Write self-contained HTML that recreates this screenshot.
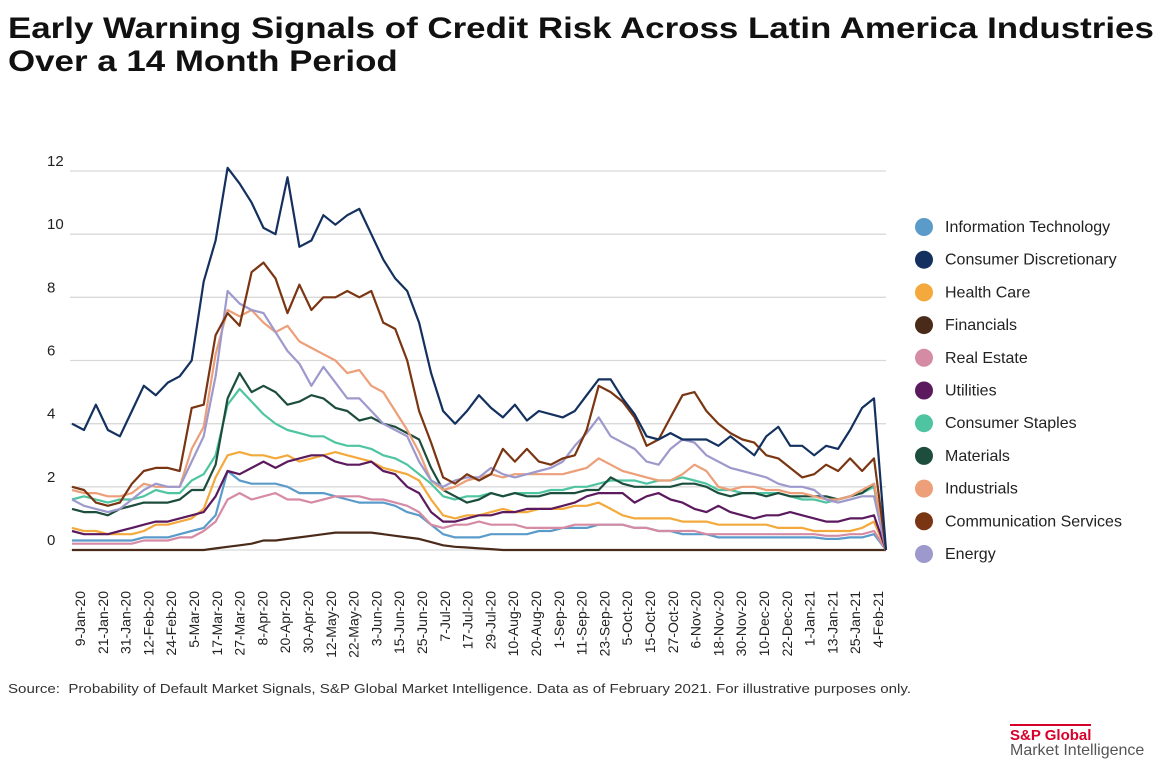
<!DOCTYPE html>
<html><head><meta charset="utf-8">
<style>
body{margin:0;background:#fff;font-family:"Liberation Sans",sans-serif;}
#wrap{position:relative;width:1168px;height:768px;overflow:hidden;}
h1{position:absolute;left:8px;top:12px;margin:0;font-size:30px;line-height:33px;font-weight:bold;color:#111;white-space:nowrap;transform:scaleX(1.163);transform-origin:0 0;}
.src{position:absolute;left:8px;top:681px;font-size:13px;color:#333;white-space:nowrap;transform:scaleX(1.16);transform-origin:0 0;}
.logo1{position:absolute;left:1010px;top:724px;font-size:15px;font-weight:bold;color:#d6002a;border-top:2px solid #d6002a;padding-top:1px;}
.logo2{position:absolute;left:1010px;top:742px;font-size:16px;color:#555;}
</style></head><body>
<div id="wrap">
<h1>Early Warning Signals of Credit Risk Across Latin America Industries<br>Over a 14 Month Period</h1>
<svg id="chart" width="1168" height="768" style="position:absolute;left:0;top:0"></svg>
<div class="src">Source:&nbsp; Probability of Default Market Signals, S&amp;P Global Market Intelligence. Data as of February 2021. For illustrative purposes only.</div>
<div class="logo1">S&amp;P Global</div>
<div class="logo2">Market Intelligence</div>
</div>
<script>
const xLabels=["9-Jan-20","21-Jan-20","31-Jan-20","12-Feb-20","24-Feb-20","5-Mar-20","17-Mar-20","27-Mar-20","8-Apr-20","20-Apr-20","30-Apr-20","12-May-20","22-May-20","3-Jun-20","15-Jun-20","25-Jun-20","7-Jul-20","17-Jul-20","29-Jul-20","10-Aug-20","20-Aug-20","1-Sep-20","11-Sep-20","23-Sep-20","5-Oct-20","15-Oct-20","27-Oct-20","6-Nov-20","18-Nov-20","30-Nov-20","10-Dec-20","22-Dec-20","1-Jan-21","13-Jan-21","25-Jan-21","4-Feb-21"];
const yTicks=[0,2,4,6,8,10,12];
const seriesNames=["Information Technology","Consumer Discretionary","Health Care","Financials","Real Estate","Utilities","Consumer Staples","Materials","Industrials","Communication Services","Energy"];
const seriesColors=["#5b9bc9","#13305f","#f3a93c","#4a2a18","#d68ba5","#5c1a5e","#4fc4a1","#1d4d3c","#ec9f78","#7a3512","#9d99cc"];
const itVals=[0.3,0.3,0.3,0.3,0.3,0.3,0.4,0.4,0.4,0.5,0.6,0.7,1.1,2.5,2.2,2.1,2.1,2.1,2.0,1.8,1.8,1.8,1.7,1.6,1.5,1.5,1.5,1.4,1.2,1.1,0.8,0.5,0.4,0.4,0.4,0.5,0.5,0.5,0.5,0.6,0.6,0.7,0.7,0.7,0.8,0.8,0.8,0.7,0.7,0.6,0.6,0.5,0.5,0.5,0.4,0.4,0.4,0.4,0.4,0.4,0.4,0.4,0.4,0.35,0.35,0.4,0.4,0.5,0];
const cdVals=[4.0,3.8,4.6,3.8,3.6,4.4,5.2,4.9,5.3,5.5,6.0,8.5,9.8,12.1,11.6,11.0,10.2,10.0,11.8,9.6,9.8,10.6,10.3,10.6,10.8,10.0,9.2,8.6,8.2,7.2,5.6,4.4,4.0,4.4,4.9,4.5,4.2,4.6,4.1,4.4,4.3,4.2,4.4,4.9,5.4,5.4,4.8,4.3,3.6,3.5,3.7,3.5,3.5,3.5,3.3,3.6,3.3,3.0,3.6,3.9,3.3,3.3,3.0,3.3,3.2,3.8,4.5,4.8,0];
const hcVals=[0.7,0.6,0.6,0.5,0.5,0.5,0.6,0.8,0.8,0.9,1.0,1.3,2.3,3.0,3.1,3.0,3.0,2.9,3.0,2.8,2.9,3.0,3.1,3.0,2.9,2.8,2.6,2.5,2.4,2.2,1.6,1.1,1.0,1.1,1.1,1.2,1.3,1.2,1.2,1.3,1.3,1.3,1.4,1.4,1.5,1.3,1.1,1.0,1.0,1.0,1.0,0.9,0.9,0.9,0.8,0.8,0.8,0.8,0.8,0.7,0.7,0.7,0.6,0.6,0.6,0.6,0.7,0.9,0];
const finVals=[0,0,0,0,0,0,0,0,0,0,0,0,0.05,0.1,0.15,0.2,0.3,0.3,0.35,0.4,0.45,0.5,0.55,0.55,0.55,0.55,0.5,0.45,0.4,0.35,0.25,0.15,0.1,0.08,0.05,0.03,0,0,0,0,0,0,0,0,0,0,0,0,0,0,0,0,0,0,0,0,0,0,0,0,0,0,0,0,0,0,0,0,0];
const reVals=[0.2,0.2,0.2,0.2,0.2,0.2,0.3,0.3,0.3,0.4,0.4,0.6,0.9,1.6,1.8,1.6,1.7,1.8,1.6,1.6,1.5,1.6,1.7,1.7,1.7,1.6,1.6,1.5,1.4,1.2,0.8,0.7,0.8,0.8,0.9,0.8,0.8,0.8,0.7,0.7,0.7,0.7,0.8,0.8,0.8,0.8,0.8,0.7,0.7,0.6,0.6,0.6,0.6,0.5,0.5,0.5,0.5,0.5,0.5,0.5,0.5,0.5,0.5,0.45,0.45,0.5,0.5,0.6,0];
const utVals=[0.6,0.5,0.5,0.5,0.6,0.7,0.8,0.9,0.9,1.0,1.1,1.2,1.7,2.5,2.4,2.6,2.8,2.6,2.8,2.9,3.0,3.0,2.8,2.7,2.7,2.8,2.5,2.4,2.0,1.8,1.2,0.9,0.9,1.0,1.1,1.1,1.2,1.2,1.3,1.3,1.3,1.4,1.5,1.7,1.8,1.8,1.8,1.5,1.7,1.8,1.6,1.5,1.3,1.2,1.4,1.2,1.1,1.0,1.1,1.1,1.2,1.1,1.0,0.9,0.9,1.0,1.0,1.1,0];
const csVals=[1.6,1.7,1.6,1.5,1.6,1.6,1.7,1.9,1.8,1.8,2.2,2.4,3.0,4.6,5.1,4.7,4.3,4.0,3.8,3.7,3.6,3.6,3.4,3.3,3.3,3.2,3.0,2.9,2.7,2.4,2.1,1.7,1.6,1.7,1.7,1.8,1.7,1.8,1.8,1.8,1.9,1.9,2.0,2.0,2.1,2.2,2.2,2.2,2.1,2.2,2.2,2.3,2.2,2.1,1.9,1.9,1.8,1.8,1.8,1.8,1.7,1.6,1.6,1.5,1.6,1.7,1.8,2.0,0];
const matVals=[1.3,1.2,1.2,1.1,1.3,1.4,1.5,1.5,1.5,1.6,1.9,1.9,2.7,4.8,5.6,5.0,5.2,5.0,4.6,4.7,4.9,4.8,4.5,4.4,4.1,4.2,4.0,3.9,3.7,3.5,2.6,1.9,1.7,1.5,1.6,1.8,1.7,1.8,1.7,1.7,1.8,1.8,1.8,1.9,1.9,2.3,2.1,2.0,2.0,2.0,2.0,2.1,2.1,2.0,1.8,1.7,1.8,1.8,1.7,1.8,1.7,1.7,1.7,1.7,1.6,1.7,1.8,2.1,0];
const indVals=[1.9,1.8,1.8,1.7,1.7,1.8,2.1,2.0,2.0,2.0,3.2,3.9,6.2,7.6,7.4,7.6,7.2,6.9,7.1,6.6,6.4,6.2,6.0,5.6,5.7,5.2,5.0,4.4,3.8,3.1,2.2,1.9,2.0,2.2,2.3,2.4,2.3,2.4,2.4,2.4,2.4,2.4,2.5,2.6,2.9,2.7,2.5,2.4,2.3,2.2,2.2,2.4,2.7,2.5,2.0,1.9,2.0,2.0,1.9,1.9,1.8,1.8,1.7,1.6,1.6,1.7,1.9,2.1,0];
const comVals=[2.0,1.9,1.5,1.4,1.5,2.1,2.5,2.6,2.6,2.5,4.5,4.6,6.8,7.5,7.1,8.8,9.1,8.6,7.5,8.4,7.6,8.0,8.0,8.2,8.0,8.2,7.2,7.0,6.0,4.4,3.4,2.3,2.1,2.4,2.2,2.4,3.2,2.8,3.2,2.8,2.7,2.9,3.0,3.8,5.2,5.0,4.7,4.2,3.3,3.5,4.2,4.9,5.0,4.4,4.0,3.7,3.5,3.4,3.0,2.9,2.6,2.3,2.4,2.7,2.5,2.9,2.5,2.9,0];
const enVals=[1.6,1.4,1.3,1.2,1.3,1.6,1.9,2.1,2.0,2.0,2.8,3.6,5.5,8.2,7.8,7.6,7.5,6.9,6.3,5.9,5.2,5.8,5.3,4.8,4.8,4.4,4.0,3.8,3.6,2.8,2.2,2.0,2.2,2.3,2.3,2.6,2.4,2.3,2.4,2.5,2.6,2.8,3.3,3.7,4.2,3.6,3.4,3.2,2.8,2.7,3.2,3.5,3.4,3.0,2.8,2.6,2.5,2.4,2.3,2.1,2.0,2.0,1.9,1.6,1.5,1.6,1.7,1.7,0];
const allVals=[itVals,cdVals,hcVals,finVals,reVals,utVals,csVals,matVals,indVals,comVals,enVals];
const drawOrder=[3,0,4,2,5,6,7,8,10,9,1];

const svg=document.getElementById('chart');
const NS='http://www.w3.org/2000/svg';
const X0=72,X1=886,Y0=550,Y12=171;
const xScale=i=>X0+(X1-X0)*i/(cdVals.length-1);
const yScale=v=>Y0-(Y0-Y12)*v/12;
const lx=k=>80+k*(878-80)/(xLabels.length-1);
function mk(tag,attrs){const e=document.createElementNS(NS,tag);for(const k in attrs)e.setAttribute(k,attrs[k]);svg.appendChild(e);return e;}

yTicks.forEach(t=>{
  const g=mk('line',{x1:70,x2:886,y1:yScale(t),y2:yScale(t),stroke:'#d9d9d9','stroke-width':1.3});
  
  
  const tx=mk('text',{x:47,y:yScale(t)-5,'font-size':15,fill:'#222','font-family':'Liberation Sans, sans-serif'});
  tx.textContent=t;
  
  
});
xLabels.forEach((l,k)=>{
  const x=lx(k);
  const tx=mk('text',{x:0,y:0,'font-size':14,fill:'#222','text-anchor':'end','font-family':'Liberation Sans, sans-serif',transform:`translate(${x+5},591) rotate(-90)`});
  tx.textContent=l;
  
  
});
drawOrder.forEach(s=>{
  const vals=allVals[s];
  const d=vals.map((v,i)=>(i?'L':'M')+xScale(i).toFixed(1)+','+yScale(v).toFixed(1)).join('');
  const p=mk('path',{d:d,fill:'none',stroke:seriesColors[s],'stroke-width':2.2,'stroke-linejoin':'round'});
  
  
});
seriesNames.forEach((n,k)=>{
  const y=227+k*32.7;
  const c=mk('circle',{cx:924,cy:y,r:9,fill:seriesColors[k]});
  
  
  const t=mk('text',{x:945,y:y+5,'font-size':16,fill:'#222','font-family':'Liberation Sans, sans-serif'});
  t.textContent=n;
  
  
});
</script>
</body></html>
